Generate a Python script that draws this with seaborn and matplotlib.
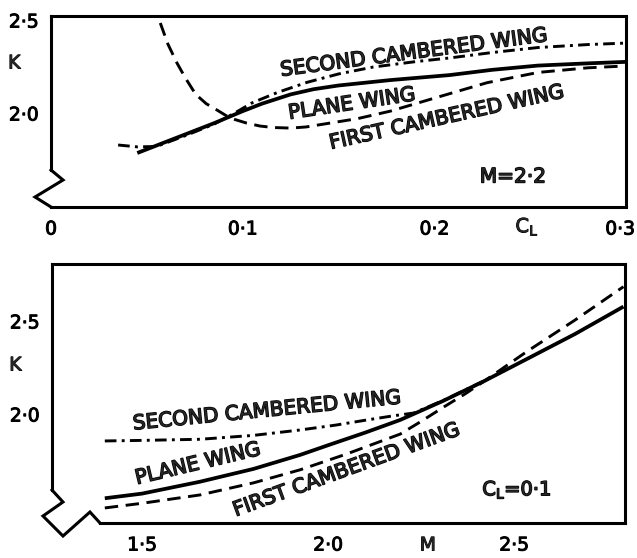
import matplotlib
matplotlib.use('Agg')
import matplotlib.pyplot as plt
import matplotlib.patheffects as pe
import matplotlib.transforms as mtransforms
import seaborn as sns

sns.set_style('white')
plt.rcParams['font.family'] = ['DejaVu Sans']
plt.rcParams['mathtext.default'] = 'regular'

# ---------------- data: top panel (M = 2.2), K vs CL ----------------
top_plane_cl = [0.045, 0.055, 0.07, 0.085, 0.10, 0.11, 0.125, 0.137, 0.15, 0.177, 0.208, 0.23, 0.254, 0.28, 0.30]
top_plane_k = [1.785, 1.825, 1.885, 1.945, 2.01, 2.05, 2.10, 2.128, 2.148, 2.177, 2.204, 2.232, 2.255, 2.267, 2.275]

top_second_cl = [0.035, 0.045, 0.055, 0.07, 0.085, 0.095, 0.105, 0.118, 0.1336, 0.15, 0.168, 0.19, 0.208, 0.23, 0.254, 0.28, 0.30]
top_second_k = [1.828, 1.818, 1.82, 1.878, 1.94, 1.995, 2.055, 2.11, 2.165, 2.21, 2.247, 2.276, 2.296, 2.325, 2.352, 2.368, 2.376]

top_first_cl = [0.057, 0.061, 0.0657, 0.070, 0.0755, 0.081, 0.0866, 0.0934, 0.102, 0.109, 0.116, 0.125,
                0.133, 0.142, 0.16, 0.177, 0.20, 0.2275, 0.254, 0.28, 0.30]
top_first_k = [2.484, 2.37, 2.269, 2.19, 2.10, 2.05, 2.016, 1.973, 1.946, 1.93, 1.922, 1.919,
               1.925, 1.94, 1.97, 2.01, 2.08, 2.163, 2.218, 2.243, 2.253]

# ---------------- data: bottom panel (CL = 0.1), K vs M ----------------
bot_plane_m = [1.40, 1.50, 1.656, 1.80, 1.925, 2.0, 2.10, 2.194, 2.309, 2.417, 2.534, 2.664, 2.794]
bot_plane_k = [1.547, 1.572, 1.636, 1.705, 1.78, 1.832, 1.90, 1.968, 2.07, 2.174, 2.295, 2.43, 2.577]

bot_first_m = [1.40, 1.50, 1.656, 1.80, 1.925, 2.05, 2.194, 2.25, 2.309, 2.37, 2.426, 2.534, 2.664, 2.794]
bot_first_k = [1.495, 1.52, 1.565, 1.63, 1.70, 1.785, 1.892, 1.96, 2.035, 2.11, 2.185, 2.335, 2.505, 2.684]

bot_second_m = [1.40, 1.50, 1.656, 1.80, 1.925, 2.02, 2.105, 2.175, 2.23, 2.309, 2.417]
bot_second_k = [1.855, 1.858, 1.864, 1.885, 1.914, 1.94, 1.968, 1.99, 2.005, 2.072, 2.176]

top_xticks = [0, 0.1, 0.2, 0.3]
top_xticklabels = ['0', '0·1', '0·2', '0·3']
top_yticks = [2.0, 2.5]
top_yticklabels = ['2·0', '2·5']
bot_xticks = [1.5, 2.0, 2.5]
bot_xticklabels = ['1·5', '2·0', '2·5']
bot_yticks = [2.0, 2.5]
bot_yticklabels = ['2·0', '2·5']

label_second = 'SECOND CAMBERED WING'
label_plane = 'PLANE WING'
label_first = 'FIRST CAMBERED WING'

# ---------------- figure ----------------
fig = plt.figure(figsize=(6.37, 5.58), dpi=100)
ax1 = fig.add_axes([0.0801, 0.629, 0.9027, 0.3423])
ax2 = fig.add_axes([0.0816, 0.0627, 0.8995, 0.4642])

SOLID = dict(lw=2.7, ls='-')
DASHED = dict(lw=2.1, ls=(0, (4.6, 2.6)))
DASHDOT = dict(lw=2.1, ls=(0, (4.0, 1.8, 1.0, 1.8)))

stroke = [pe.withStroke(linewidth=1.0, foreground='black')]
thin_stroke = [pe.withStroke(linewidth=0.7, foreground='black')]


def draw(ax, x, y, st):
    sns.lineplot(x=x, y=y, ax=ax, color='black', estimator=None, sort=False)
    ln = ax.lines[-1]
    ln.set_linewidth(st['lw'])
    ln.set_linestyle(st['ls'])
    ln.set_dash_capstyle('butt')
    ln.set_solid_capstyle('butt')


def style_axes(ax, xlim, ylim, xt, xtl, yt, ytl, left_low, bottom_low, zig):
    ax.set_xlim(*xlim)
    ax.set_ylim(*ylim)
    ax.set_xticks(xt)
    ax.set_xticklabels(xtl)
    ax.set_yticks(yt)
    ax.set_yticklabels(ytl)
    ax.tick_params(direction='in', length=6, width=2, labelsize=13.5, pad=9, colors='black')
    for t in ax.get_xticklabels() + ax.get_yticklabels():
        t.set_path_effects(thin_stroke)
    for s in ax.spines.values():
        s.set_linewidth(2.2)
        s.set_color('black')
        s.set_capstyle('projecting')
    ax.spines['left'].set_bounds(left_low, ylim[1])
    ax.spines['bottom'].set_bounds(bottom_low, xlim[1])
    ax.set_xlabel('')
    ax.set_ylabel('')
    zx, zy = zip(*zig)
    ax.plot(zx, zy, color='black', lw=2.2, transform=ax.transAxes, clip_on=False,
            solid_joinstyle='miter', solid_capstyle='projecting')


# top panel
draw(ax1, top_plane_cl, top_plane_k, SOLID)
draw(ax1, top_second_cl, top_second_k, DASHDOT)
draw(ax1, top_first_cl, top_first_k, DASHED)
style_axes(ax1, (0, 0.3), (1.4946, 2.5215), top_xticks, top_xticklabels, top_yticks, top_yticklabels,
           1.6935, 0.0,
           [(0, 0.1937), (0.0209, 0.1414), (-0.0278, 0.0524), (0.0, 0.0)])

# keep the last top tick label inside the figure
last = ax1.get_xticklabels()[-1]
last.set_transform(last.get_transform() + mtransforms.ScaledTranslation(-6 / 100, 0, fig.dpi_scale_trans))

# bottom panel
draw(ax2, bot_plane_m, bot_plane_k, SOLID)
draw(ax2, bot_second_m, bot_second_k, DASHDOT)
draw(ax2, bot_first_m, bot_first_k, DASHED)
style_axes(ax2, (1.258, 2.798), (1.414, 2.806), bot_xticks, bot_xticklabels, bot_yticks, bot_yticklabels,
           1.5914, 1.387,
           [(0, 0.1274), (0.0192, 0.0811), (-0.0157, 0.027), (0.0192, -0.0502), (0.0663, 0.0425), (0.0838, 0)])

# axis letters
for ax, ky in ((ax1, 0.754), (ax2, 0.61)):
    ax.text(-0.064, ky, 'K', transform=ax.transAxes, ha='center', va='center', fontsize=13.5,
            path_effects=thin_stroke)
ax1.text(0.828, -0.105, r'$C_L$', transform=ax1.transAxes, ha='center', va='center', fontsize=14,
         path_effects=thin_stroke)
ax2.text(0.656, -0.085, 'M', transform=ax2.transAxes, ha='center', va='center', fontsize=13.5,
         path_effects=thin_stroke)

# curve labels (top)
tk = dict(ha='center', va='center', fontsize=14.5, rotation_mode='anchor', path_effects=stroke)
ax1.text(0.1894, 2.3226, label_second, rotation=7.5, **tk)
ax1.text(0.157, 2.048, label_plane, rotation=8.5, **tk)
ax1.text(0.2065, 1.975, label_first, rotation=12.5, **tk)
ax1.text(0.241, 1.656, 'M=2·2', ha='center', va='center', fontsize=14.5, path_effects=stroke)

# curve labels (bottom)
ax2.text(1.836, 2.016, label_second, rotation=5.6, **tk)
ax2.text(1.6505, 1.731, label_plane, rotation=13.4, **tk)
ax2.text(2.05, 1.698, label_first, rotation=20, **tk)
ax2.text(2.508, 1.591, r'$C_L$=0·1', ha='center', va='center', fontsize=14, path_effects=stroke)

fig.savefig('out.png', dpi=100, facecolor='white')
